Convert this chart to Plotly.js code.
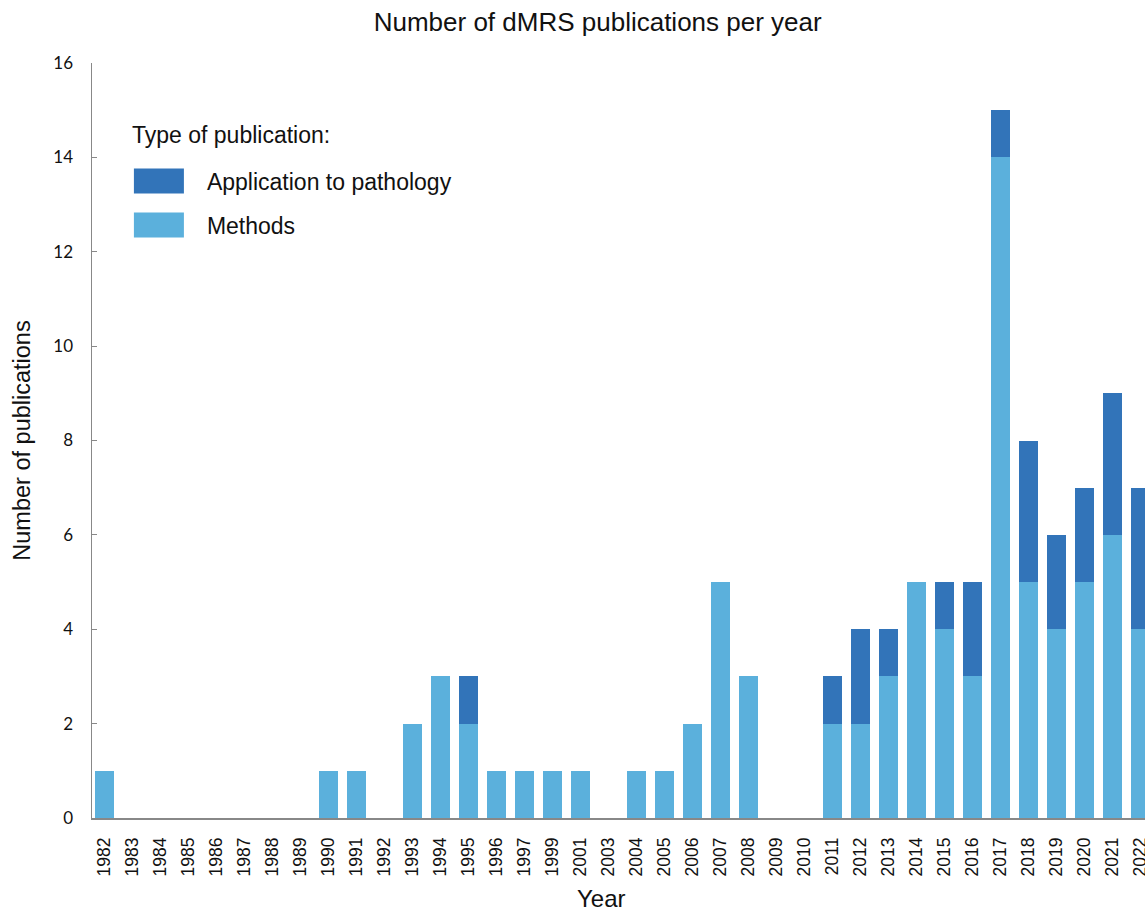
<!DOCTYPE html>
<html>
<head>
<meta charset="utf-8">
<script src="https://cdn.plot.ly/plotly-3.0.1.min.js"></script>
<style>html,body{margin:0;padding:0;background:#fff;}#chart{width:1145px;height:913px;}</style>
</head>
<body>
<div id="chart"></div>
<script>
const years = ['1982','1983','1984','1985','1986','1987','1988','1989','1990','1991','1992','1993','1994','1995','1996','1997','1999','2001','2003','2004','2005','2006','2007','2008','2009','2010','2011','2012','2013','2014','2015','2016','2017','2018','2019','2020','2021','2022'];
const methods = [1,0,0,0,0,0,0,0,1,1,0,2,3,2,1,1,1,1,0,1,1,2,5,3,0,0,2,2,3,5,4,3,14,5,4,5,6,4];
const pathology = [0,0,0,0,0,0,0,0,0,0,0,0,0,1,0,0,0,0,0,0,0,0,0,0,0,0,1,2,1,0,1,2,1,3,2,2,3,3];
const seriesNames = ['Methods','Application to pathology'];
const colors = ['#5BB0DC','#3274B9'];

const font = 'Liberation Sans, Arial, sans-serif';

const traces = [
  {type:'bar', x:years, y:methods, name:seriesNames[0], legendgroup:'m', legendrank:2,
   marker:{color:colors[0], line:{width:0}}, hoverinfo:'x+y+name'},
  {type:'bar', x:years, y:pathology, name:seriesNames[1], legendgroup:'p', legendrank:1,
   marker:{color:colors[1], line:{width:0}}, hoverinfo:'x+y+name'}
];

const layout = {
  width:1145, height:913,
  margin:{l:92, r:0, t:63, b:95},
  paper_bgcolor:'#fff', plot_bgcolor:'#fff',
  barmode:'stack', bargap:0.32,
  font:{family:font, color:'#111'},
  title:{text:'Number of dMRS publications per year', font:{size:26, family:font, color:'#111'},
         x:0.522, xanchor:'center', y:0.976, yanchor:'middle'},
  xaxis:{type:'category', range:[-0.45, 37.15], showline:true, linecolor:'#888', linewidth:1.5,
         ticks:'', tickangle:-90, tickfont:{size:17.5, family:font, color:'#111'},
         showgrid:false, zeroline:false, ticklabelstandoff:11},
  yaxis:{range:[0,16], dtick:2, showline:true, linecolor:'#888', linewidth:1.5,
         ticks:'inside', ticklen:5, tickcolor:'#888', tickwidth:1,
         tickfont:{size:17, family:'Lato, sans-serif', color:'#111'}, ticklabelstandoff:14,
         showgrid:false, zeroline:false,
         title:{text:'Number of publications', font:{size:23.5, family:font, color:'#111'}, standoff:16}},
  showlegend:true,
  legend:{x:0.036, y:0.872, xanchor:'left', yanchor:'top', bgcolor:'rgba(0,0,0,0)',
          traceorder:'grouped', tracegroupgap:11, itemwidth:67,
          font:{size:23, family:font, color:'#111'}},
  annotations:[
    {text:'Type of publication:', xref:'paper', yref:'paper', x:0.036, y:0.9046, xanchor:'left', yanchor:'middle',
     showarrow:false, font:{size:23, family:font, color:'#111'}},
    {text:'Year', xref:'paper', yref:'paper', x:0.484, y:-0.106, xanchor:'center', yanchor:'middle',
     showarrow:false, font:{size:24, family:font, color:'#111'}}
  ]
};

Plotly.newPlot('chart', traces, layout, {displayModeBar:false, staticPlot:true}).then(function(gd){
  gd.querySelectorAll('.legend .traces .legendpoints path').forEach(function(p){
    p.setAttribute('d','M-25,-12.5H25V12.5H-25Z');
    p.setAttribute('transform','translate(29,0)');
    p.style.strokeWidth = '0';
  });
});
</script>
</body>
</html>
